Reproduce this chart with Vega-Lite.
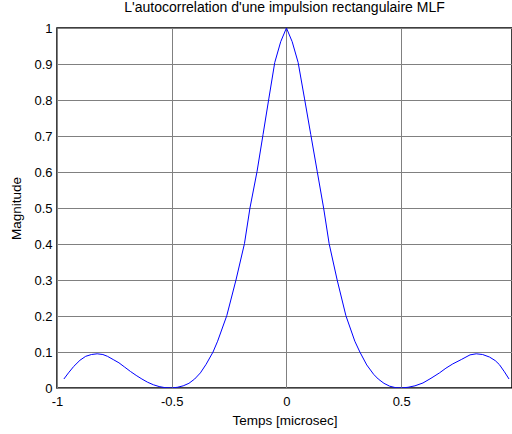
{
  "$schema": "https://vega.github.io/schema/vega-lite/v6.json",
  "width": 455,
  "height": 360,
  "autosize": "none",
  "padding": {"left": 57, "top": 28, "right": 0, "bottom": 46},
  "background": "white",
  "title": {"text": "L'autocorrelation d'une impulsion rectangulaire MLF", "fontSize": 14, "font": "Liberation Sans", "fontWeight": "normal", "color": "#000", "offset": 7, "anchor": "middle"},
  "config": {
    "view": {"stroke": "#000", "strokeWidth": 1.5},
    "axis": {"labelFont": "Liberation Sans", "titleFont": "Liberation Sans", "labelFontSize": 13, "titleFontSize": 13.5, "labelColor": "#000", "titleColor": "#000", "titleFontWeight": "normal", "domain": false, "ticks": false, "grid": true, "gridColor": "#808080", "gridWidth": 1, "gridOpacity": 1}
  },
  "data": {"values": [
    {"t": -0.97, "m": 0.025}, {"t": -0.95, "m": 0.042}, {"t": -0.927, "m": 0.060}, {"t": -0.9, "m": 0.077},
    {"t": -0.875, "m": 0.088}, {"t": -0.85, "m": 0.093}, {"t": -0.825, "m": 0.095}, {"t": -0.8, "m": 0.093},
    {"t": -0.78, "m": 0.088}, {"t": -0.755, "m": 0.079}, {"t": -0.73, "m": 0.070}, {"t": -0.705, "m": 0.058},
    {"t": -0.68, "m": 0.046}, {"t": -0.655, "m": 0.035}, {"t": -0.63, "m": 0.025}, {"t": -0.605, "m": 0.016},
    {"t": -0.58, "m": 0.009}, {"t": -0.555, "m": 0.004}, {"t": -0.53, "m": 0.001}, {"t": -0.5, "m": 0.0},
    {"t": -0.475, "m": 0.002}, {"t": -0.45, "m": 0.006}, {"t": -0.425, "m": 0.013}, {"t": -0.4, "m": 0.025},
    {"t": -0.375, "m": 0.042}, {"t": -0.35, "m": 0.066}, {"t": -0.32, "m": 0.100}, {"t": -0.3, "m": 0.130},
    {"t": -0.26, "m": 0.201}, {"t": -0.22, "m": 0.300}, {"t": -0.183, "m": 0.401}, {"t": -0.159, "m": 0.5},
    {"t": -0.128, "m": 0.602}, {"t": -0.102, "m": 0.704}, {"t": -0.077, "m": 0.803}, {"t": -0.051, "m": 0.904},
    {"t": -0.025, "m": 0.962}, {"t": 0.0, "m": 1.0},
    {"t": 0.025, "m": 0.962}, {"t": 0.051, "m": 0.904}, {"t": 0.079, "m": 0.803}, {"t": 0.106, "m": 0.704},
    {"t": 0.134, "m": 0.602}, {"t": 0.162, "m": 0.5}, {"t": 0.186, "m": 0.401}, {"t": 0.221, "m": 0.300},
    {"t": 0.259, "m": 0.201}, {"t": 0.298, "m": 0.130}, {"t": 0.32, "m": 0.100}, {"t": 0.35, "m": 0.064},
    {"t": 0.38, "m": 0.038}, {"t": 0.4, "m": 0.025}, {"t": 0.425, "m": 0.013}, {"t": 0.45, "m": 0.005},
    {"t": 0.475, "m": 0.001}, {"t": 0.5, "m": 0.0}, {"t": 0.53, "m": 0.002}, {"t": 0.56, "m": 0.006},
    {"t": 0.595, "m": 0.014}, {"t": 0.63, "m": 0.027}, {"t": 0.667, "m": 0.042}, {"t": 0.695, "m": 0.055},
    {"t": 0.725, "m": 0.067}, {"t": 0.762, "m": 0.079}, {"t": 0.8, "m": 0.092}, {"t": 0.827, "m": 0.095},
    {"t": 0.855, "m": 0.093}, {"t": 0.885, "m": 0.086}, {"t": 0.91, "m": 0.076}, {"t": 0.928, "m": 0.065},
    {"t": 0.95, "m": 0.045}, {"t": 0.97, "m": 0.025}
  ]},
  "mark": {"type": "line", "color": "#0000ff", "strokeWidth": 1, "clip": true},
  "encoding": {
    "x": {"field": "t", "type": "quantitative", "scale": {"domain": [-1, 0.983], "nice": false, "zero": false},
      "axis": {"values": [-1, -0.5, 0, 0.5], "labelExpr": "datum.value + ''", "title": "Temps [microsec]", "labelPadding": 7, "titlePadding": 5, "labelFlush": false}},
    "y": {"field": "m", "type": "quantitative", "scale": {"domain": [0, 1], "nice": false},
      "axis": {"values": [0, 0.1, 0.2, 0.3, 0.4, 0.5, 0.6, 0.7, 0.8, 0.9, 1], "labelExpr": "datum.value + ''", "title": "Magnitude", "labelPadding": 5, "titlePadding": 10, "labelFlush": false}}
  }
}
